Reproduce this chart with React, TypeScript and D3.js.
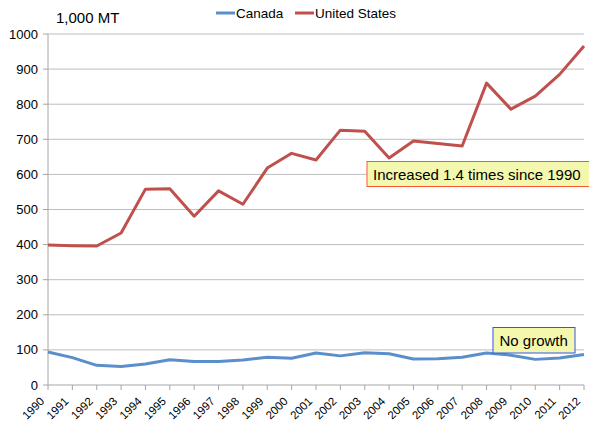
import React from "react";
import * as d3 from "d3";

const years = ["1990","1991","1992","1993","1994","1995","1996","1997","1998","1999","2000","2001","2002","2003","2004","2005","2006","2007","2008","2009","2010","2011","2012"];
const canada = [94,78,56,53,60,72,67,67,71,79,76,91,83,92,89,74,75,79,91,85,73,77,87];
const unitedStates = [399,397,396,433,558,559,481,553,515,618,660,641,726,723,647,695,688,681,860,786,823,885,966];
const yTicks = [0,100,200,300,400,500,600,700,800,900,1000];

const W = 589, H = 425;
const left = 48, right = 584, top = 34, bottom = 385;
const font = "Liberation Sans, Arial, sans-serif";

export default function App() {
  const x = d3.scalePoint<string>().domain(years).range([left, right]);
  const y = d3.scaleLinear().domain([0, 1000]).range([bottom, top]);
  const line = d3.line<number>().x((_, i) => x(years[i])!).y(d => y(d));
  return (
    <svg width={W} height={H} style={{ position: "absolute", left: 0, top: 0 }} fontFamily={font}>
      <rect width={W} height={H} fill="#fff" />
      {yTicks.map(t => (
        <g key={t}>
          {t > 0 && <line x1={left} x2={right} y1={y(t)} y2={y(t)} stroke="#BDBDBD" strokeWidth={1} />}
          <line x1={left - 5} x2={left} y1={y(t)} y2={y(t)} stroke="#A6A6A6" />
          <text x={left - 10} y={y(t) + 4.5} textAnchor="end" fontSize={13} fill="#000">{t}</text>
        </g>
      ))}
      <line x1={left} x2={left} y1={top} y2={bottom} stroke="#A6A6A6" />
      <line x1={left} x2={right} y1={bottom} y2={bottom} stroke="#A6A6A6" />
      {years.map(yr => (
        <g key={yr}>
          <line x1={x(yr)} x2={x(yr)} y1={bottom} y2={bottom + 5} stroke="#A6A6A6" />
          <text transform={`translate(${x(yr)! - 3},${bottom + 17}) rotate(-45)`} textAnchor="end" fontSize={11.5} fill="#000">{yr}</text>
        </g>
      ))}
      <path d={line(unitedStates)!} fill="none" stroke="#C0504D" strokeWidth={3} strokeLinejoin="round" />
      <path d={line(canada)!} fill="none" stroke="#5B8FCB" strokeWidth={3} strokeLinejoin="round" />
      <text x={56} y={22.5} fontSize={15} fill="#000">1,000 MT</text>
      <line x1={216} x2={235} y1={13} y2={13} stroke="#5B8FCB" strokeWidth={3} />
      <text x={236} y={17.5} fontSize={13.5} fill="#000">Canada</text>
      <line x1={295} x2={314} y1={13} y2={13} stroke="#C0504D" strokeWidth={3} />
      <text x={315} y={17.5} fontSize={13.5} fill="#000">United States</text>
      <rect x={367} y={161.5} width={224} height={25} fill="#F3F8AE" stroke="#FF5533" strokeWidth={1} />
      <text x={373} y={179.5} fontSize={15} fill="#000">Increased 1.4 times since 1990</text>
      <rect x={493} y={327.5} width={82} height={25.5} fill="#F3F8AE" stroke="#3355EE" strokeWidth={1} />
      <text x={499.5} y={345.5} fontSize={15} fill="#000">No growth</text>
    </svg>
  );
}
